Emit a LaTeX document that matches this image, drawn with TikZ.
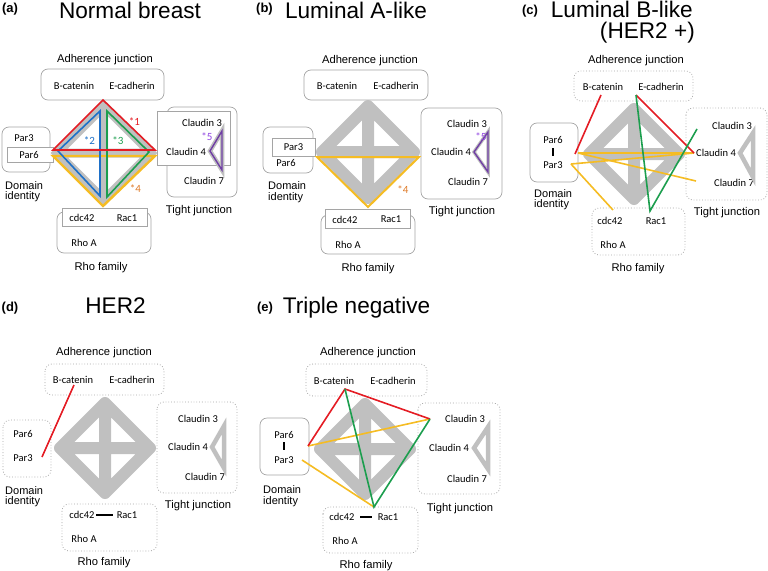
\documentclass[tikz,border=0pt]{standalone}
\usepackage{fontspec}
\setmainfont{Liberation Sans}
\newfontfamily\calfont{Carlito}
\definecolor{boxgray}{RGB}{165,165,165}
\definecolor{bandgray}{RGB}{192,192,192}
\definecolor{lred}{RGB}{228,28,36}
\definecolor{lblue}{RGB}{30,112,200}
\definecolor{lgreen}{RGB}{28,158,78}
\definecolor{lyellow}{RGB}{245,188,35}
\definecolor{lorange}{RGB}{222,122,40}
\definecolor{lpurple}{RGB}{112,62,165}
\definecolor{spurple}{RGB}{145,70,225}
\begin{document}
\begin{tikzpicture}[x=1pt,y=-1pt,
  title/.style={font=\fontsize{22.6}{27}\selectfont, inner sep=0pt, anchor=base},
  plab/.style={font=\bfseries\fontsize{13}{15}\selectfont, inner sep=0pt, anchor=base},
  grp/.style={font=\fontsize{11.2}{13}\selectfont, inner sep=0pt, anchor=base},
  dom/.style={font=\fontsize{11}{10.5}\selectfont, inner sep=0pt, anchor=north west, align=left},
  mol/.style={font=\calfont\fontsize{10.5}{12}\selectfont, inner sep=0pt},
  star/.style={font=\calfont\fontsize{11}{13}\selectfont, inner sep=0pt},
  rbox/.style={draw=boxgray, line width=0.7pt, rounded corners=7pt},
  dbox/.style={draw=boxgray, line width=0.8pt, rounded corners=7pt, dotted},
  sbox/.style={draw=boxgray, line width=0.7pt, fill=white},
  band/.style={draw=bandgray, line width=12pt, line join=round, line cap=round},
  link/.style={line width=1.6pt, line join=miter},
  tri/.style={draw=bandgray, line width=4.5pt, line join=miter},
  molbar/.style={draw=black, line width=1.1pt}]
\useasboundingbox (0,0) rectangle (768,570);

% ================= (a) Normal breast =================
\node[plab] (la) at (10,12.5) {(a)};
\node[title] (ta) at (130,18) {Normal breast};
\node[grp] (aAdh) at (105,62) {Adherence junction};
\draw[rbox] (41,69) rectangle (164,100);
\draw[rbox] (2,127) rectangle (50,172);
\draw[sbox] (7,147) rectangle (53,162);
\draw[rbox] (167,107) rectangle (237,197);
\draw[sbox] (157,111) rectangle (230,165);
\draw[rbox] (57,212) rectangle (151,253);
\draw[sbox] (62,208) rectangle (147,226);
\begin{scope}[shift={(104,153)}]
  \draw[band, line width=9pt, line join=miter] (0,-47) -- (47,0) -- (0,47) -- (-47,0) -- cycle
    (-0.5,-47) -- (-0.5,47) (-47,0) -- (47,0);
\end{scope}
\node[mol] (aBcat) at (74,86) {B-catenin};
\node[mol] (aEcad) at (132,86) {E-cadherin};
\node[mol] (aPar3) at (24,138) {Par3};
\node[mol] (aPar6) at (29,155) {Par6};
\node[dom] (aDom) at (5,181) {Domain\\identity};
\node[mol] (aC3) at (202,123) {Claudin 3};
\node[mol] (aC4) at (186,152) {Claudin 4};
\node[mol] (aC7) at (204,181) {Claudin 7};
\node[grp] (aTJ) at (199,213) {Tight junction};
\node[mol] (aCdc) at (82,218) {cdc42};
\node[mol] (aRac) at (127,218) {Rac1};
\node[mol] (aRho) at (84,243) {Rho A};
\node[grp] (aRF) at (101,270) {Rho family};
\coordinate (aT) at (103,100); \coordinate (aL) at (53,150); \coordinate (aR) at (155,150);
\coordinate (aBt) at (100,111); \coordinate (aBl) at (58,151); \coordinate (aBb) at (100,196);
\coordinate (aGt) at (107,111); \coordinate (aGr) at (149,152); \coordinate (aGb) at (107,197);
\coordinate (aYl) at (53,156); \coordinate (aYr) at (155,156); \coordinate (aYb) at (103,206);
\draw[link, lyellow, line width=2.4pt] (aYl) -- (aYr) -- (aYb) -- cycle;
\draw[link, lblue] (aBl) -- (aBt) -- (aBb) -- cycle;
\draw[link, lgreen] (aGt) -- (aGr) -- (aGb) -- cycle;
\draw[link, lred] (aL) -- (aT) -- (aR) -- cycle;
\coordinate (aPt) at (222,131); \coordinate (aPl) at (210,151); \coordinate (aPb) at (222,170);
\draw[tri] (aPt) -- (aPl) -- (aPb) -- cycle;
\draw[lpurple, line width=1.4pt, line join=miter] (aPt) -- (aPl) -- (aPb) -- cycle;
\node[star, lred] (aS1) at (134.5,122) {*1};
\node[star, lblue] (aS2) at (89.5,141) {*2};
\node[star, lgreen] (aS3) at (118,141) {*3};
\node[star, lorange] (aS4) at (135.5,188.5) {*4};
\node[star, spurple] (aS5) at (207,137) {*5};

% ================= (b) Luminal A-like =================
\node[plab] (lb) at (264.5,12.5) {(b)};
\node[title] (tb) at (356,18) {Luminal A-like};
\node[grp] (bAdh) at (370,63) {Adherence junction};
\draw[rbox] (304,70) rectangle (428,100);
\draw[rbox] (263,127) rectangle (313,173);
\draw[sbox] (272,138) rectangle (315,156);
\draw[rbox] (421,108) rectangle (502,199);
\draw[rbox] (321,215) rectangle (415,254);
\draw[sbox] (325,209) rectangle (410,228);
\begin{scope}[shift={(368,152)}]
  \draw[band] (0,-46) -- (46,0) -- (0,46) -- (-46,0) -- cycle (0,-46) -- (0,46) (-46,0) -- (46,0);
\end{scope}
\node[mol] (bBcat) at (337,86) {B-catenin};
\node[mol] (bEcad) at (396,86) {E-cadherin};
\node[mol] (bPar3) at (293.5,147) {Par3};
\node[mol] (bPar6) at (286,163) {Par6};
\node[dom] (bDom) at (268,181.5) {Domain\\identity};
\node[mol] (bC3) at (467,124) {Claudin 3};
\node[mol] (bC4) at (451,152) {Claudin 4};
\node[mol] (bC7) at (468,182) {Claudin 7};
\node[grp] (bTJ) at (462,214) {Tight junction};
\node[mol] (bCdc) at (345,219.5) {cdc42};
\node[mol] (bRac) at (391,219.5) {Rac1};
\node[mol] (bRho) at (348,245) {Rho A};
\node[grp] (bRF) at (368,271) {Rho family};
\coordinate (bYl) at (317,157); \coordinate (bYr) at (419,157); \coordinate (bYb) at (368,207);
\draw[link, lyellow, line width=2pt] (bYl) -- (bYr) -- (bYb) -- cycle;
\coordinate (bPt) at (488,132); \coordinate (bPl) at (474,152); \coordinate (bPb) at (488,172);
\draw[tri, line width=3.5pt] (bPt) -- (bPl) -- (bPb) -- cycle;
\draw[lpurple, line width=1.4pt, line join=miter] (bPt) -- (bPl) -- (bPb) -- cycle;
\node[star, lorange] (bS4) at (403,189.5) {*4};
\node[star, spurple] (bS5) at (481,137) {*5};

% ================= (c) Luminal B-like (HER2 +) =================
\node[plab] (lc) at (530,14) {(c)};
\node[title, anchor=base east] (tc1) at (693,17) {Luminal B-like};
\node[title, anchor=base east] (tc2) at (695,38) {(HER2 +)};
\node[grp] (cAdh) at (636,63) {Adherence junction};
\draw[dbox] (574,71) rectangle (693,101);
\draw[rbox] (530,123) rectangle (578,182);
\draw[dbox] (686,108) rectangle (767,200);
\draw[dbox] (592,208) rectangle (685,255);
\begin{scope}[shift={(634,154)}]
  \draw[band] (0,-45) -- (45,0) -- (0,45) -- (-45,0) -- cycle (0,-45) -- (0,45) (-45,0) -- (45,0);
\end{scope}
\node[mol] (cBcat) at (603,87) {B-catenin};
\node[mol] (cEcad) at (661,87) {E-cadherin};
\node[mol] (cPar6) at (553,140) {Par6};
\node[mol] (cPar3) at (553,165) {Par3};
\draw[molbar, shorten <=4.5pt, shorten >=5pt] (cPar6.south) -- (cPar3.north);
\node[dom] (cDom) at (534,189.2) {Domain\\identity};
\node[mol] (cC3) at (732,126) {Claudin 3};
\node[mol] (cC4) at (716,153) {Claudin 4};
\node[mol] (cC7) at (734,183) {Claudin 7};
\node[grp] (cTJ) at (727,215) {Tight junction};
\node[mol] (cCdc) at (610,221) {cdc42};
\node[mol] (cRac) at (656,221) {Rac1};
\node[mol] (cRho) at (613,245) {Rho A};
\node[grp] (cRF) at (638,271) {Rho family};
\coordinate (cTa) at (753,133); \coordinate (cTb) at (740,153); \coordinate (cTc) at (753,177);
\draw[tri] (cTa) -- (cTb) -- (cTc) -- cycle;
\coordinate (cB) at (601,95); \coordinate (cE) at (636,95);
\coordinate (cPr) at (575,154); \coordinate (cP1) at (578,153); \coordinate (cP2) at (571,164);
\coordinate (cR) at (650,211); \coordinate (cK3) at (697,129); \coordinate (cK4) at (694,153);
\coordinate (cK7) at (696,181); \coordinate (cK) at (613,210);
\draw[link, lyellow] (cP1) -- (cK4);
\draw[link, lyellow] (cP1) -- (cK7);
\draw[link, lyellow] (cP2) -- (cK4);
\draw[link, lyellow] (cP2) -- (cK);
\draw[link, lred] (cB) -- (cPr);
\draw[link, lred] (cE) -- (cK4);
\draw[link, lgreen] (cE) -- (cR) -- (cK3);

% ================= (d) HER2 =================
\node[plab] (ld) at (10,311.5) {(d)};
\node[title] (td) at (115.5,313) {HER2};
\node[grp] (dAdh) at (104,355) {Adherence junction};
\draw[dbox] (45,364) rectangle (164,395);
\draw[dbox] (3,420) rectangle (51,477);
\draw[dbox] (157,402) rectangle (237,493);
\draw[dbox] (62,504) rectangle (157,551);
\begin{scope}[shift={(105,448)}]
  \draw[band] (0,-45) -- (45,0) -- (0,45) -- (-45,0) -- cycle (0,-45) -- (0,45) (-45,0) -- (45,0);
\end{scope}
\node[mol] (dBcat) at (73,380) {B-catenin};
\node[mol] (dEcad) at (132,380) {E-cadherin};
\node[mol] (dPar6) at (23,434) {Par6};
\node[mol] (dPar3) at (23,458) {Par3};
\node[dom] (dDom) at (5,486.2) {Domain\\identity};
\node[mol] (dC3) at (198,419) {Claudin 3};
\node[mol] (dC4) at (188,447) {Claudin 4};
\node[mol] (dC7) at (205,477) {Claudin 7};
\node[grp] (dTJ) at (198,508) {Tight junction};
\node[mol] (dCdc) at (82,515) {cdc42};
\node[mol] (dRac) at (127,515) {Rac1};
\draw[molbar, shorten <=1.5pt, shorten >=3.7pt] (dCdc.east) -- (dRac.west);
\node[mol] (dRho) at (84,539) {Rho A};
\node[grp] (dRF) at (104,565) {Rho family};
\coordinate (dTa) at (224,426); \coordinate (dTb) at (212,447); \coordinate (dTc) at (224,468);
\draw[tri] (dTa) -- (dTb) -- (dTc) -- cycle;
\coordinate (dB) at (74,385); \coordinate (dP) at (42,457);
\draw[link, lred] (dB) -- (dP);

% ================= (e) Triple negative =================
\node[plab] (le) at (265,311.5) {(e)};
\node[title] (te) at (356.5,313) {Triple negative};
\node[grp] (eAdh) at (368,355.7) {Adherence junction};
\draw[dbox] (306,364) rectangle (427,396);
\draw[rbox] (260,418) rectangle (309,475);
\draw[dbox] (418,403) rectangle (500,494);
\draw[dbox] (323,507) rectangle (418,553);
\begin{scope}[shift={(365,449)}]
  \draw[band] (0,-45) -- (45,0) -- (0,45) -- (-45,0) -- cycle (0,-45) -- (0,45) (-45,0) -- (45,0);
\end{scope}
\node[mol] (eBcat) at (334,381) {B-catenin};
\node[mol] (eEcad) at (393,381) {E-cadherin};
\node[mol] (ePar6) at (284,435) {Par6};
\node[mol] (ePar3) at (284,460) {Par3};
\draw[molbar, shorten <=3.6pt, shorten >=6.4pt] (ePar6.south) -- (ePar3.north);
\node[dom] (eDom) at (263,485.5) {Domain\\identity};
\node[mol] (eC3) at (465,419) {Claudin 3};
\node[mol] (eC4) at (449,448) {Claudin 4};
\node[mol] (eC7) at (467,479) {Claudin 7};
\node[grp] (eTJ) at (460,511) {Tight junction};
\node[mol] (eCdc) at (342,517) {cdc42};
\node[mol] (eRac) at (388,517) {Rac1};
\draw[molbar, shorten <=5.5pt, shorten >=5.7pt] (eCdc.east) -- (eRac.west);
\node[mol] (eRho) at (345,541) {Rho A};
\node[grp] (eRF) at (366,568) {Rho family};
\coordinate (eTa) at (488,427); \coordinate (eTb) at (474,448); \coordinate (eTc) at (488,469);
\draw[tri] (eTa) -- (eTb) -- (eTc) -- cycle;
\coordinate (eB) at (345,389); \coordinate (eP1) at (308,446); \coordinate (eP2) at (302,460);
\coordinate (eK3) at (430,419); \coordinate (eR) at (374,507);
\draw[link, lyellow] (eP1) -- (eK3);
\draw[link, lyellow] (eP2) -- (eR);
\draw[link, lred] (eP1) -- (eB) -- (eK3);
\draw[link, lgreen] (eB) -- (eR) -- (eK3);
\end{tikzpicture}
\end{document}
